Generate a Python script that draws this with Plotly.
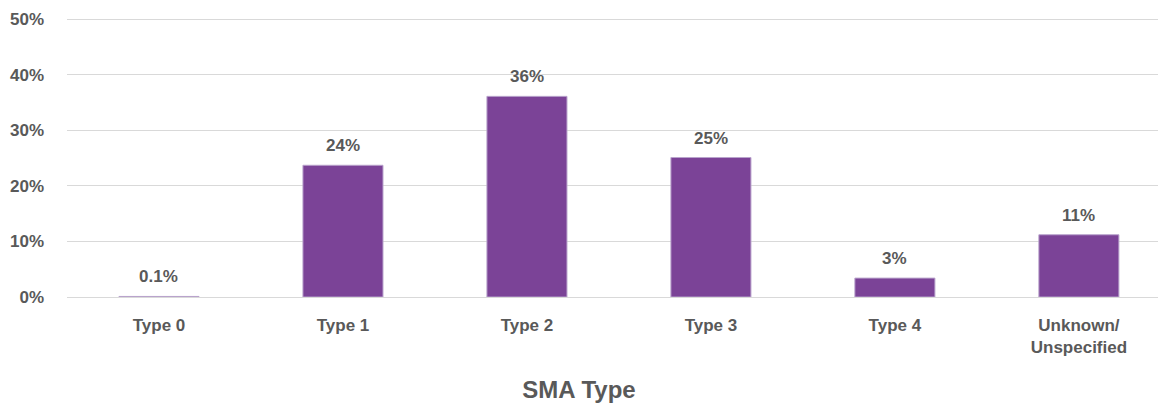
import plotly.graph_objects as go

categories = ["Type 0", "Type 1", "Type 2", "Type 3", "Type 4", "Unknown/<br>Unspecified"]
values = [0.1, 23.7, 36.1, 25.1, 3.4, 11.2]
labels = ["0.1%", "24%", "36%", "25%", "3%", "11%"]
y_ticks = [0, 10, 20, 30, 40, 50]

FONT = "Liberation Sans Narrow, Arial Narrow, Arial, sans-serif"
GRAY = "#595959"
PURPLE = "#7B4397"

fig = go.Figure(go.Bar(
    x=categories, y=values,
    marker=dict(color=PURPLE, line=dict(color="#b9a3cc", width=1)),
    cliponaxis=False,
))

for c, v, t in zip(categories, values, labels):
    fig.add_annotation(x=c, y=v, text=t, showarrow=False, yanchor="bottom", yshift=8,
                       font=dict(family=FONT, size=17, color=GRAY, weight="bold"))

fig.update_layout(
    width=1158, height=404,
    margin=dict(l=67, r=0, t=18, b=107),
    paper_bgcolor="white", plot_bgcolor="white",
    bargap=0.565,
    showlegend=False,
    font=dict(family=FONT, color=GRAY, size=17, weight="bold"),
    title=dict(text="SMA Type", xref="container", yref="container", x=0.5, y=0.035,
               xanchor="center", yanchor="middle",
               font=dict(family=FONT, size=24, color=GRAY, weight="bold")),
)
fig.update_yaxes(range=[0, 50.2], tickvals=y_ticks, ticktext=[f"{v}%" for v in y_ticks],
                 showgrid=True, gridcolor="#d9d9d9", gridwidth=1,
                 zeroline=True, zerolinecolor="#d9d9d9", zerolinewidth=1,
                 showline=False, ticklabelstandoff=22,
                 tickfont=dict(family=FONT, size=17, color=GRAY, weight="bold"))
fig.update_xaxes(range=[-0.5, 5.43], showgrid=False, showline=False, ticks="", ticklabelstandoff=16,
                 tickfont=dict(family=FONT, size=17, color=GRAY, weight="bold"))

fig.write_html("out.html", config={"displayModeBar": False},
               post_script="document.body.style.margin='0';")
